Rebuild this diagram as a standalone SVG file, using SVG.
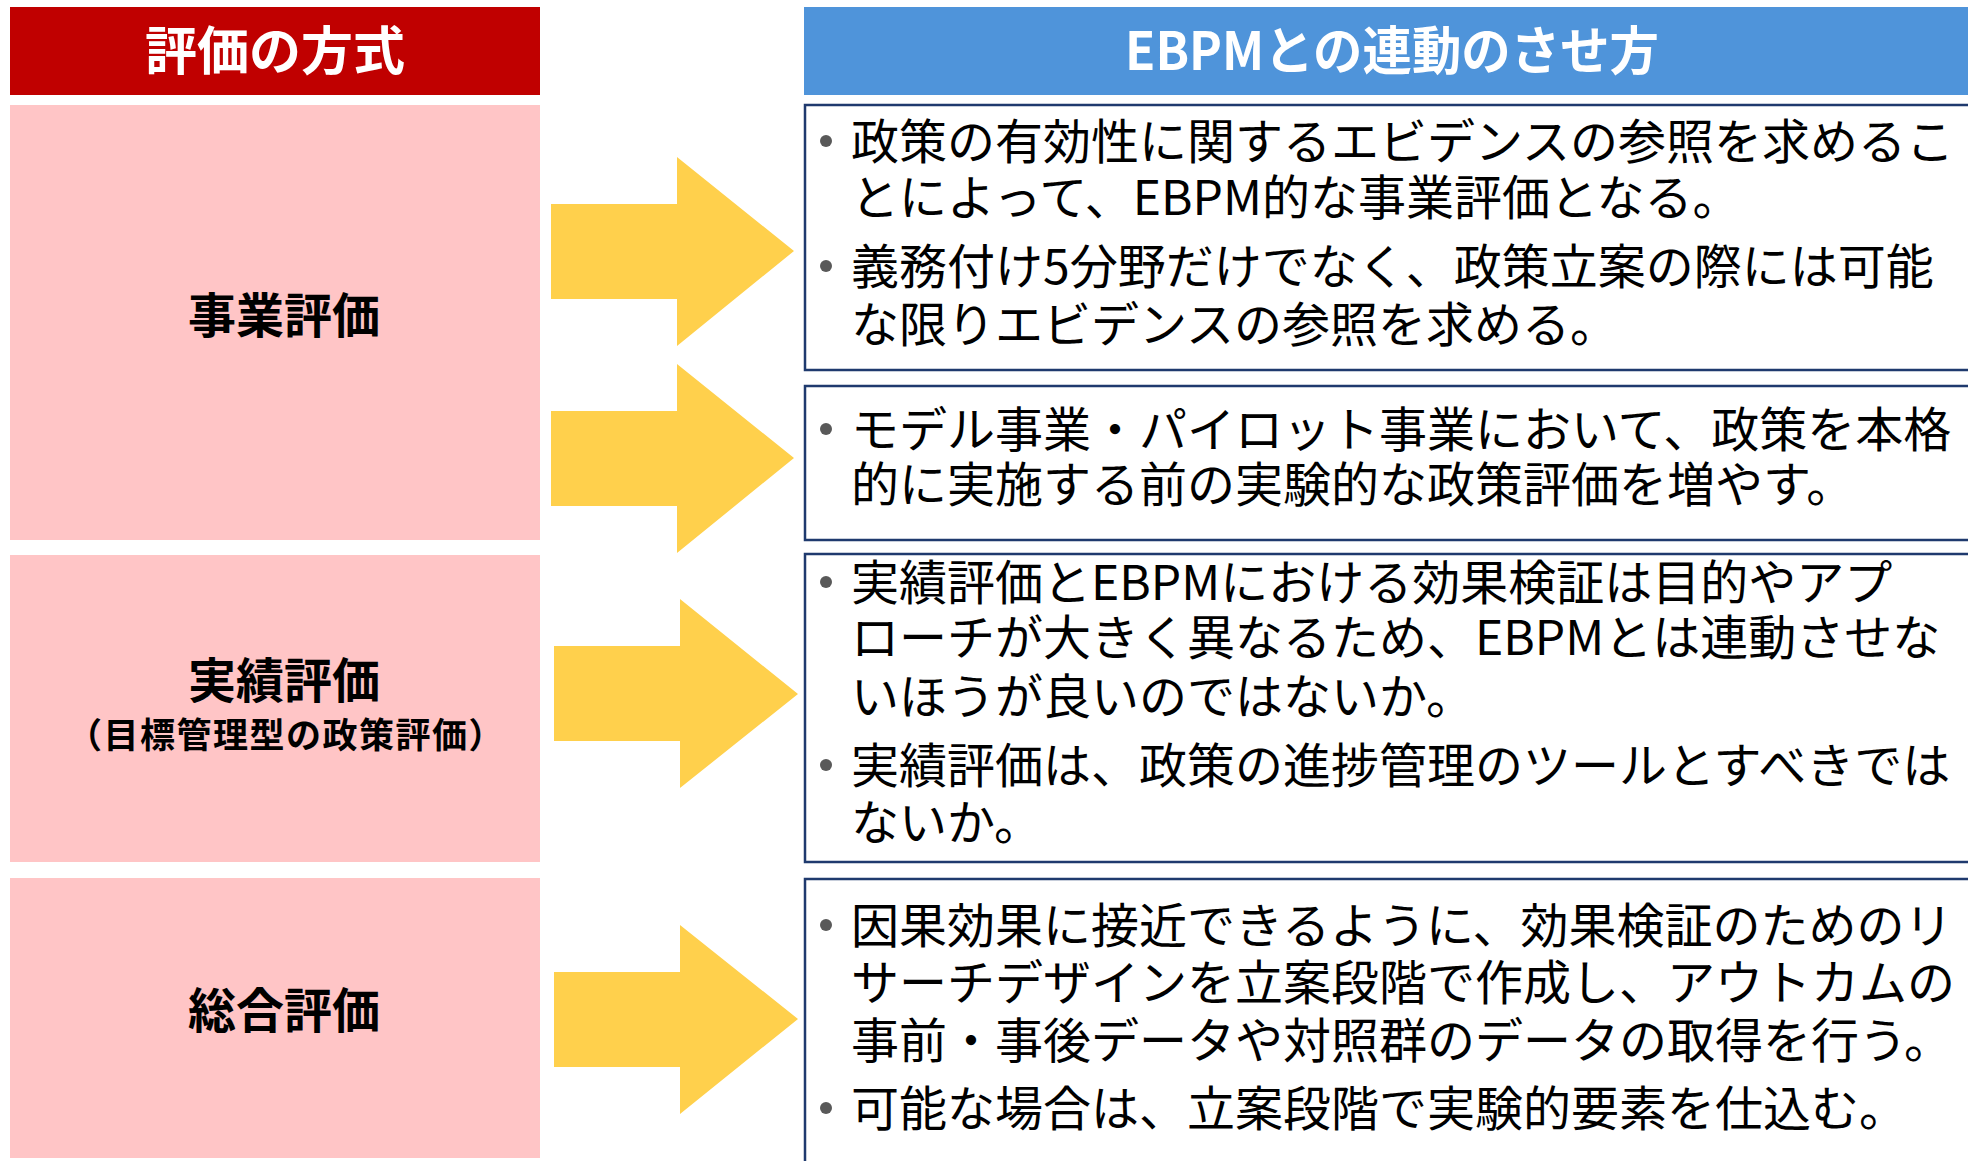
<svg xmlns="http://www.w3.org/2000/svg" width="1968" height="1161" viewBox="0 0 1968 1161">
<style>
.hdr{font-family:"Noto Sans CJK JP","Noto Sans",sans-serif;font-weight:bold;font-size:52px;fill:#ffffff;text-anchor:middle}
.lbl{font-family:"Noto Sans CJK JP","Noto Sans",sans-serif;font-weight:bold;font-size:48px;fill:#000000;text-anchor:middle}
.sub{font-family:"Noto Sans CJK JP","Noto Sans",sans-serif;font-weight:bold;font-size:35px;letter-spacing:1.5px;fill:#000000;text-anchor:middle}
.body{font-family:"Noto Sans CJK JP","Noto Sans",sans-serif;font-size:48px;fill:#000000}
.pink{fill:#FFC5C6}
.box{fill:#ffffff;stroke:#1F3A6E;stroke-width:2.5}
.bul{fill:#595959}
.arrow{fill:#FFD04C}
</style>
<g id="header-left">
<rect x="10" y="7" width="530" height="88" fill="#C00000"/>
<text class="hdr" x="275" y="70">評価の方式</text>
</g>
<g id="header-right">
<rect x="804" y="7" width="1164" height="88" fill="#4F94DA"/>
<text class="hdr" x="1392" y="70" textLength="534" lengthAdjust="spacingAndGlyphs">EBPMとの連動のさせ方</text>
</g>
<g id="method-jigyo">
<rect class="pink" x="10" y="105" width="530" height="435"/>
<text class="lbl" x="284" y="333">事業評価</text>
</g>
<g id="method-jisseki">
<rect class="pink" x="10" y="555" width="530" height="307"/>
<text class="lbl" x="284" y="698">実績評価</text>
<text class="sub" x="286" y="748">（目標管理型の政策評価）</text>
</g>
<g id="method-sougou">
<rect class="pink" x="10" y="878" width="530" height="280"/>
<text class="lbl" x="284" y="1028">総合評価</text>
</g>
<g id="box1">
<rect class="box" x="805" y="105" width="1200" height="265"/>
<circle class="bul" cx="826" cy="141" r="6"/>
<circle class="bul" cx="826" cy="266" r="6"/>
<text class="body" x="851" y="159">政策の有効性に関するエビデンスの参照を求めるこ</text>
<text class="body" x="851" y="215">とによって、EBPM的な事業評価となる。</text>
<text class="body" x="851" y="284">義務付け5分野だけでなく、政策立案の際には可能</text>
<text class="body" x="851" y="342">な限りエビデンスの参照を求める。</text>
</g>
<g id="box2">
<rect class="box" x="805" y="386" width="1200" height="154"/>
<circle class="bul" cx="826" cy="429" r="6"/>
<text class="body" x="851" y="447">モデル事業・パイロット事業において、政策を本格</text>
<text class="body" x="851" y="502">的に実施する前の実験的な政策評価を増やす。</text>
</g>
<g id="box3">
<rect class="box" x="805" y="554" width="1200" height="308"/>
<circle class="bul" cx="826" cy="582" r="6"/>
<circle class="bul" cx="826" cy="765" r="6"/>
<text class="body" x="851" y="600">実績評価とEBPMにおける効果検証は目的やアプ</text>
<text class="body" x="851" y="655">ローチが大きく異なるため、EBPMとは連動させな</text>
<text class="body" x="851" y="714">いほうが良いのではないか。</text>
<text class="body" x="851" y="783">実績評価は、政策の進捗管理のツールとすべきでは</text>
<text class="body" x="851" y="840">ないか。</text>
</g>
<g id="box4">
<rect class="box" x="805" y="879" width="1200" height="300"/>
<circle class="bul" cx="826" cy="925" r="6"/>
<circle class="bul" cx="826" cy="1108" r="6"/>
<text class="body" x="851" y="943">因果効果に接近できるように、効果検証のためのリ</text>
<text class="body" x="851" y="1000">サーチデザインを立案段階で作成し、アウトカムの</text>
<text class="body" x="851" y="1058">事前・事後データや対照群のデータの取得を行う。</text>
<text class="body" x="851" y="1126">可能な場合は、立案段階で実験的要素を仕込む。</text>
</g>
<g id="connectors">
<polygon class="arrow" points="551,204 677,204 677,157 794,251 677,346 677,299 551,299"/>
<polygon class="arrow" points="551,411 677,411 677,364 794,458 677,553 677,506 551,506"/>
<polygon class="arrow" points="554,646 680,646 680,599 798,694 680,788 680,741 554,741"/>
<polygon class="arrow" points="554,972 680,972 680,925 798,1019 680,1114 680,1067 554,1067"/>
</g>
</svg>
